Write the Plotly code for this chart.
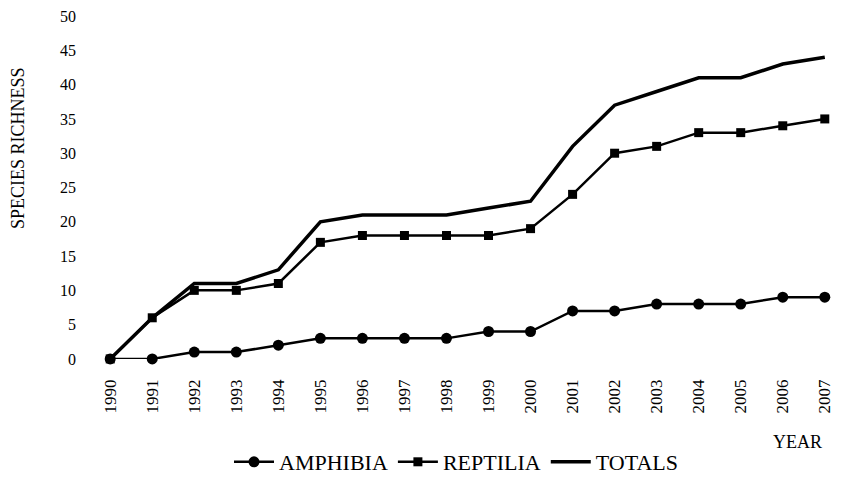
import plotly.graph_objects as go

years = list(range(1990, 2008))
year_labels = [str(y) for y in years]
amphibia = [0, 0, 1, 1, 2, 3, 3, 3, 3, 4, 4, 7, 7, 8, 8, 8, 9, 9]
reptilia = [0, 6, 10, 10, 11, 17, 18, 18, 18, 18, 19, 24, 30, 31, 33, 33, 34, 35]
totals = [0, 6, 11, 11, 13, 20, 21, 21, 21, 22, 23, 31, 37, 39, 41, 41, 43, 44]
y_ticks = list(range(0, 55, 5))

FONT = "Liberation Serif"
OFF = 8  # page body margin in the browser; keep the page inside the window
W, H = 842 - 2 * OFF, 478 - 2 * OFF
# plot area in window pixels
PL, PR, PT, PB = 110, 825, 16, 359
PW, PH = PR - PL, PB - PT

def px(x):
    return (x - PL) / PW

def py(y):
    return (PB - y) / PH

fig = go.Figure()
fig.add_trace(go.Scatter(x=years, y=amphibia, name="AMPHIBIA", mode="lines+markers",
                         line=dict(color="black", width=2.5),
                         marker=dict(symbol="circle", size=11, color="black"),
                         cliponaxis=False))
fig.add_trace(go.Scatter(x=years, y=reptilia, name="REPTILIA", mode="lines+markers",
                         line=dict(color="black", width=2.5),
                         marker=dict(symbol="square", size=9, color="black"),
                         cliponaxis=False))
fig.add_trace(go.Scatter(x=years, y=totals, name="TOTALS", mode="lines",
                         line=dict(color="black", width=3.5),
                         cliponaxis=False))

fig.update_layout(
    width=W, height=H,
    margin=dict(l=PL - OFF, r=(842 - OFF) - PR, t=PT - OFF, b=(478 - OFF) - PB,
                autoexpand=False),
    paper_bgcolor="white", plot_bgcolor="white",
    font=dict(family=FONT, color="black", size=16),
    showlegend=True,
    legend=dict(orientation="h", xref="container", yref="container",
                x=(456 - OFF) / W, y=(478 - OFF - 441) / H, xanchor="center", yanchor="top",
                font=dict(size=22, family=FONT), itemwidth=40, tracegroupgap=0),
    xaxis=dict(range=[1989.995, 2007.005], tickmode="array", tickvals=years, ticktext=year_labels,
               tickangle=-90, showgrid=False, zeroline=False, showline=False,
               automargin=False, ticklabeloverflow="allow",
               ticks="", ticklabelstandoff=16, tickfont=dict(size=17, family=FONT)),
    yaxis=dict(range=[-0.01, 50.01], tickmode="array", tickvals=y_ticks,
               showgrid=False, zeroline=False, showline=False,
               automargin=False, ticklabeloverflow="allow",
               ticks="", ticklabelstandoff=33, tickfont=dict(size=16, family=FONT)),
    annotations=[
        dict(text="SPECIES RICHNESS", xref="paper", yref="paper", x=px(18), y=py(148),
             textangle=-90, showarrow=False, font=dict(size=18, family=FONT),
             xanchor="center", yanchor="middle"),
        dict(text="YEAR", xref="paper", yref="paper", x=px(797), y=py(442),
             showarrow=False, font=dict(size=18, family=FONT),
             xanchor="center", yanchor="middle"),
    ],
)

fig.write_html("out.html")
